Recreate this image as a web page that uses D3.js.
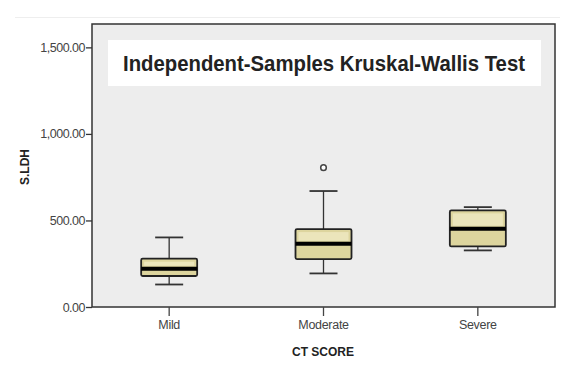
<!DOCTYPE html>
<html>
<head>
<meta charset="utf-8">
<script src="https://cdn.jsdelivr.net/npm/d3@7"></script>
<style>
  body { margin: 0; background: #fff; }
  svg { display: block; }
</style>
</head>
<body>
<svg id="chart" width="576" height="365"></svg>
<script>
// categories on the x axis
const categories = ["Mild", "Moderate", "Severe"];
// five-number summaries
const whiskerLow = [130, 194, 327];
const q1 = [179, 277, 350];
const median = [221, 365, 452];
const q3 = [279, 450, 558];
const whiskerHigh = [402, 670, 577];
// outliers: [category, value]
const outliers = [["Moderate", 805]];
const yTicks = [0, 500, 1000, 1500];

const margin = { left: 92, right: 21, top: 24, bottom: 58 };
const width = 576 - margin.left - margin.right;
const height = 365 - margin.top - margin.bottom;

const svg = d3.select("#chart");

// faint line at the very top of the image
svg.append("line")
  .attr("x1", 15).attr("x2", 560)
  .attr("y1", 17.5).attr("y2", 17.5)
  .attr("stroke", "#eee");

const g = svg.append("g")
  .attr("transform", "translate(" + margin.left + "," + margin.top + ")");

const x = d3.scaleBand()
  .domain(categories)
  .range([0, width]);

const y = d3.scaleLinear()
  .domain([0, 1635])
  .range([height, 0]);

// plot background
g.append("rect")
  .attr("width", width)
  .attr("height", height)
  .attr("fill", "#ededed");

// title box
g.append("rect")
  .attr("x", 16).attr("y", 16)
  .attr("width", 433).attr("height", 46)
  .attr("fill", "#fff");
g.append("text")
  .attr("x", 232).attr("y", 47)
  .attr("text-anchor", "middle")
  .attr("font-family", "Liberation Sans, Arial, sans-serif")
  .attr("font-size", 22)
  .attr("font-weight", "bold")
  .attr("textLength", 402)
  .attr("lengthAdjust", "spacingAndGlyphs")
  .attr("fill", "#222")
  .text("Independent-Samples Kruskal-Wallis Test");

const boxW = 56;
const capW = 28;

const boxes = g.selectAll(".box")
  .data(categories.map((c, i) => ({
    c, lo: whiskerLow[i], q1: q1[i], med: median[i], q3: q3[i], hi: whiskerHigh[i]
  })))
  .enter()
  .append("g")
  .attr("transform", d => "translate(" + (x(d.c) + x.bandwidth() / 2) + ",0)");

// whiskers
boxes.append("line")
  .attr("x1", 0).attr("x2", 0)
  .attr("y1", d => y(d.hi)).attr("y2", d => y(d.lo))
  .attr("stroke", "#333").attr("stroke-width", 1.3);
boxes.selectAll(".cap")
  .data(d => [d.lo, d.hi])
  .enter()
  .append("line")
  .attr("x1", -capW / 2).attr("x2", capW / 2)
  .attr("y1", v => y(v)).attr("y2", v => y(v))
  .attr("stroke", "#333").attr("stroke-width", 1.8);

// box
boxes.append("rect")
  .attr("x", -boxW / 2)
  .attr("y", d => y(d.q3))
  .attr("width", boxW)
  .attr("height", d => y(d.q1) - y(d.q3))
  .attr("fill", "#ddd59e")
  .attr("stroke", "#222").attr("stroke-width", 1.8)
  .attr("rx", 1.5);
// lighter inner highlight
boxes.append("rect")
  .attr("x", -boxW / 2 + 3)
  .attr("y", d => y(d.q3) + 3)
  .attr("width", boxW - 6)
  .attr("height", d => Math.max(0, y(d.med) - y(d.q3) - 6))
  .attr("fill", "#ebe5bb");

// median
boxes.append("line")
  .attr("x1", -boxW / 2).attr("x2", boxW / 2)
  .attr("y1", d => y(d.med)).attr("y2", d => y(d.med))
  .attr("stroke", "#000").attr("stroke-width", 4);

// outliers
g.selectAll(".outlier")
  .data(outliers)
  .enter()
  .append("circle")
  .attr("cx", d => x(d[0]) + x.bandwidth() / 2)
  .attr("cy", d => y(d[1]))
  .attr("r", 2.8)
  .attr("fill", "#fff")
  .attr("stroke", "#444").attr("stroke-width", 1.5);

// frame
g.append("rect")
  .attr("width", width)
  .attr("height", height)
  .attr("fill", "none")
  .attr("stroke", "#333")
  .attr("stroke-width", 1.5);

// y axis
const yAxis = g.append("g")
  .call(d3.axisLeft(y).tickValues(yTicks).tickSize(6)
    .tickFormat(d => d3.format(",.2f")(d)));
yAxis.select(".domain").remove();
yAxis.selectAll("line").attr("stroke", "#333").attr("stroke-width", 1.3);
yAxis.selectAll("text")
  .attr("font-family", "Liberation Sans, Arial, sans-serif")
  .attr("font-size", 12.5)
  .attr("fill", "#444")
  .attr("dx", 2)
  .attr("letter-spacing", -0.5);

// x axis
const xAxis = g.append("g")
  .attr("transform", "translate(0," + height + ")")
  .call(d3.axisBottom(x).tickSize(9).tickPadding(4));
xAxis.select(".domain").remove();
xAxis.selectAll("line").attr("stroke", "#444").attr("stroke-width", 1.3);
xAxis.selectAll("text")
  .attr("font-family", "Liberation Sans, Arial, sans-serif")
  .attr("font-size", 12.5)
  .attr("fill", "#444")
  .attr("letter-spacing", -0.3);

// axis titles
svg.append("text")
  .attr("transform", "translate(29,167) rotate(-90)")
  .attr("text-anchor", "middle")
  .attr("font-family", "Liberation Sans, Arial, sans-serif")
  .attr("font-size", 12)
  .attr("font-weight", "bold")
  .attr("fill", "#222")
  .text("S.LDH");
svg.append("text")
  .attr("x", 323).attr("y", 356)
  .attr("text-anchor", "middle")
  .attr("font-family", "Liberation Sans, Arial, sans-serif")
  .attr("font-size", 12)
  .attr("font-weight", "bold")
  .attr("fill", "#222")
  .text("CT SCORE");
</script>
</body>
</html>
